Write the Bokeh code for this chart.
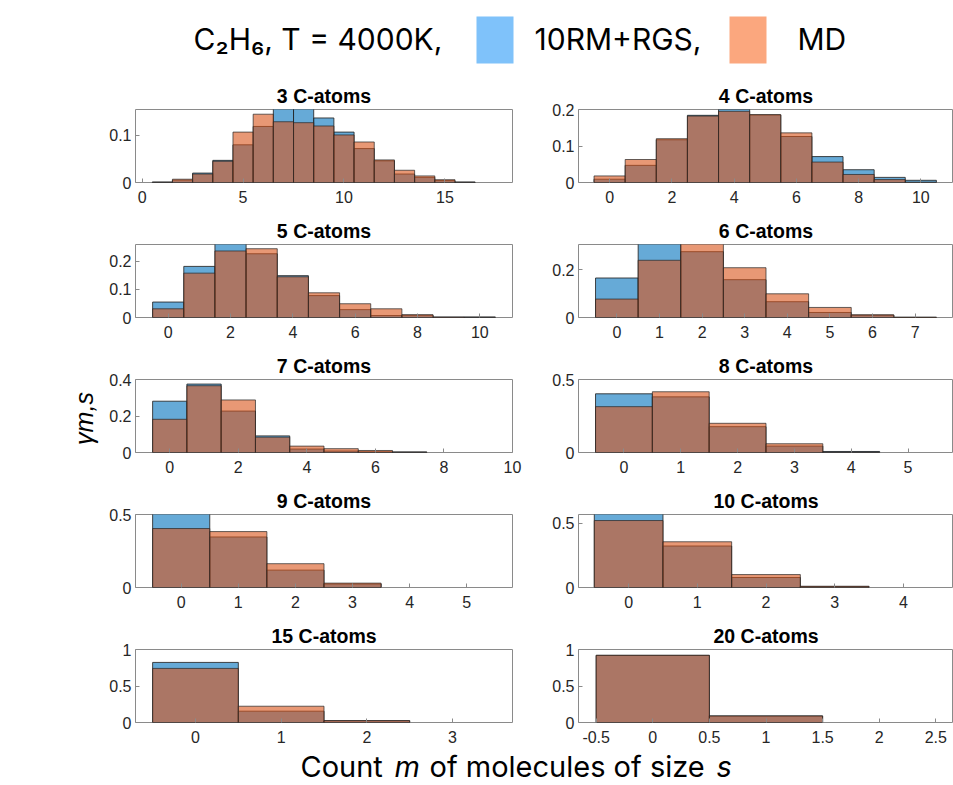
import numpy as np
from bokeh.plotting import figure
from bokeh.layouts import column, row
from bokeh.models import Range1d, FixedTicker, NumeralTickFormatter
from bokeh.core.properties import value
from bokeh.embed import file_html
from bokeh.resources import INLINE

# ---------------- data ----------------
panel_titles = ["3 C-atoms", "4 C-atoms", "5 C-atoms", "6 C-atoms", "7 C-atoms",
                "8 C-atoms", "9 C-atoms", "10 C-atoms", "15 C-atoms", "20 C-atoms"]

m_3 = list(range(1, 17))
rgs_3 = [0.001, 0.005, 0.020, 0.047, 0.080, 0.119, 0.160, 0.162, 0.137, 0.107,
         0.072, 0.046, 0.018, 0.011, 0.004, 0.001]
md_3 = [0.0005, 0.007, 0.018, 0.045, 0.107, 0.145, 0.129, 0.127, 0.120, 0.101,
        0.086, 0.048, 0.026, 0.014, 0.006, 0.0005]

m_4 = list(range(0, 11))
rgs_4 = [0.009, 0.047, 0.117, 0.184, 0.201, 0.185, 0.126, 0.071, 0.035, 0.014, 0.006]
md_4 = [0.018, 0.063, 0.120, 0.182, 0.195, 0.186, 0.136, 0.056, 0.022, 0.008, 0.001]

m_5 = list(range(0, 11))
rgs_5 = [0.055, 0.182, 0.275, 0.227, 0.149, 0.078, 0.028, 0.007, 0.008, 0.001, 0.002]
md_5 = [0.031, 0.158, 0.237, 0.245, 0.145, 0.088, 0.049, 0.031, 0.010, 0.002, 0.0005]

m_6 = list(range(0, 8))
rgs_6 = [0.165, 0.320, 0.275, 0.158, 0.066, 0.021, 0.010, 0.000]
md_6 = [0.077, 0.239, 0.310, 0.208, 0.099, 0.042, 0.011, 0.002]

m_7 = list(range(0, 8))
rgs_7 = [0.281, 0.375, 0.227, 0.091, 0.019, 0.008, 0.004, 0.003]
md_7 = [0.182, 0.366, 0.288, 0.084, 0.035, 0.021, 0.011, 0.002]

m_8 = list(range(0, 5))
rgs_8 = [0.402, 0.381, 0.177, 0.044, 0.007]
md_8 = [0.314, 0.416, 0.200, 0.060, 0.002]

m_9 = list(range(0, 4))
rgs_9 = [0.510, 0.346, 0.119, 0.024]
md_9 = [0.404, 0.383, 0.163, 0.030]

m_10 = list(range(0, 4))
rgs_10 = [0.580, 0.324, 0.078, 0.007]
md_10 = [0.523, 0.357, 0.101, 0.010]

m_15 = list(range(0, 3))
rgs_15 = [0.823, 0.155, 0.023]
md_15 = [0.741, 0.223, 0.027]

m_20 = list(range(0, 2))
rgs_20 = [0.920, 0.090]
md_20 = [0.920, 0.090]

x_ticks = [[0, 5, 10, 15], [0, 2, 4, 6, 8, 10], [0, 2, 4, 6, 8, 10],
           [0, 1, 2, 3, 4, 5, 6, 7], [0, 2, 4, 6, 8, 10], [0, 1, 2, 3, 4, 5],
           [0, 1, 2, 3, 4, 5], [0, 1, 2, 3, 4], [0, 1, 2, 3],
           [-0.5, 0, 0.5, 1, 1.5, 2, 2.5]]
y_ticks = [[0, 0.1], [0, 0.1, 0.2], [0, 0.1, 0.2], [0, 0.2], [0, 0.2, 0.4],
           [0, 0.5], [0, 0.5], [0, 0.5], [0, 0.5, 1], [0, 0.5, 1]]

legend_title = "C\u2082H\u2086, T = 4000K,"
series_names = ["10RM+RGS,", "MD"]
y_label = "\u03b3m,s"
x_label_parts = ["Count", "m", "of molecules of size", "s"]

# ---------------- styles / layout ----------------
x_lims = [(-0.33, 18.35), (-1.0, 11.05), (-1.05, 11.05), (-0.9, 7.9), (-1.0, 10.0),
          (-0.8, 5.8), (-0.8, 5.8), (-0.73, 4.73), (-0.7, 3.7), (-0.656, 2.656)]
y_lims = [(0, 0.155), (0, 0.2), (0, 0.26), (0, 0.305), (0, 0.4),
          (0, 0.5), (0, 0.5), (0, 0.57), (0, 1.0), (0, 1.0)]

data = [(m_3, rgs_3, md_3), (m_4, rgs_4, md_4), (m_5, rgs_5, md_5), (m_6, rgs_6, md_6),
        (m_7, rgs_7, md_7), (m_8, rgs_8, md_8), (m_9, rgs_9, md_9), (m_10, rgs_10, md_10),
        (m_15, rgs_15, md_15), (m_20, rgs_20, md_20)]

BLUE = "#0072BD"
ORANGE = "#D95319"
AX = "#8a8a8a"
TXT = "#262626"
FONT = "Liberation Sans"
LFONT = "Inter"


def style_axis(ax, ticks):
    ax.ticker = FixedTicker(ticks=ticks)
    ax.formatter = NumeralTickFormatter(format="0.[0]")
    ax.axis_line_color = None
    ax.major_tick_in = 4
    ax.major_tick_out = 0
    ax.minor_tick_in = 0
    ax.minor_tick_out = 0
    ax.major_tick_line_color = AX
    ax.major_label_text_font = FONT
    ax.major_label_text_font_size = "16px"
    ax.major_label_text_color = TXT


def make_panel(i, left_col):
    m, rgs, md = data[i]
    p = figure(frame_width=377 if left_col else 375, frame_height=73,
               x_range=Range1d(*x_lims[i]), y_range=Range1d(*y_lims[i]),
               output_backend="svg", toolbar_location=None,
               min_border_left=35 if left_col else 46,
               min_border_right=20 if left_col else 0,
               min_border_top=35, min_border_bottom=27,
               title=panel_titles[i])
    p.xgrid.visible = False
    p.ygrid.visible = False
    p.outline_line_color = AX
    p.outline_line_width = 1
    p.title.align = "center"
    p.title.text_font = FONT
    p.title.text_font_size = "19.5px"
    p.title.text_font_style = "bold"
    p.title.text_color = "#000000"
    p.title.standoff = 5
    style_axis(p.xaxis[0], x_ticks[i])
    style_axis(p.yaxis[0], y_ticks[i])
    p.xaxis[0].major_label_standoff = 8
    p.yaxis[0].major_label_standoff = 4

    x = np.array(m, dtype=float)
    p.quad(left=x - 0.5, right=x + 0.5, bottom=0, top=rgs,
           fill_color=BLUE, fill_alpha=0.6, line_color=TXT, line_alpha=0.85, line_width=1)
    p.quad(left=x - 0.5, right=x + 0.5, bottom=0, top=md,
           fill_color=ORANGE, fill_alpha=0.6, line_color=TXT, line_alpha=0.7, line_width=1)
    return p


def blank(w, h):
    f = figure(width=w, height=h, x_range=Range1d(0, w), y_range=Range1d(h, 0),
               output_backend="svg", toolbar_location=None,
               x_axis_type=None, y_axis_type=None, min_border=0)
    f.outline_line_color = None
    return f


# legend / header
leg = blank(953, 74)
TY = 38
leg.text(x=[193], y=[TY], text=[legend_title], text_font=value(LFONT),
         text_font_size="30px", text_color="#000000", text_baseline="alphabetic")
leg.quad(left=[476], right=[513], top=[16], bottom=[63],
         fill_color="#7FC2FA", line_color=None)
leg.text(x=[534], y=[TY], text=[series_names[0]], text_font=value(LFONT),
         text_font_size="30px", text_color="#000000", text_baseline="alphabetic")
leg.quad(left=[729], right=[766], top=[16], bottom=[63],
         fill_color="#FBA77E", line_color=None)
leg.text(x=[797], y=[TY], text=[series_names[1]], text_font=value(LFONT),
         text_font_size="30px", text_color="#000000", text_baseline="alphabetic")

# y label
ylab = blank(100, 675)
ylab.text(x=[83], y=[344], text=[y_label], angle=np.pi / 2,
          text_font=value(FONT), text_font_size="25px", text_font_style="italic",
          text_align="center", text_baseline="middle", text_color="#000000")

# x label
xlab = blank(953, 36)
xl_x = [300, 394, 429, 716]
for k, part in enumerate(x_label_parts):
    xlab.text(x=[xl_x[k]], y=[17], text=[part], text_font=value(LFONT),
              text_font_size="29px", text_color="#000000",
              text_font_style="italic" if k in (1, 3) else "normal",
              text_baseline="alphabetic", text_align="left")

rows = []
for r in range(5):
    rows.append(row(make_panel(2 * r, True), make_panel(2 * r + 1, False)))

page = column(leg, row(ylab, column(*rows)), xlab)

open("out.html", "w").write(file_html(page, INLINE))
